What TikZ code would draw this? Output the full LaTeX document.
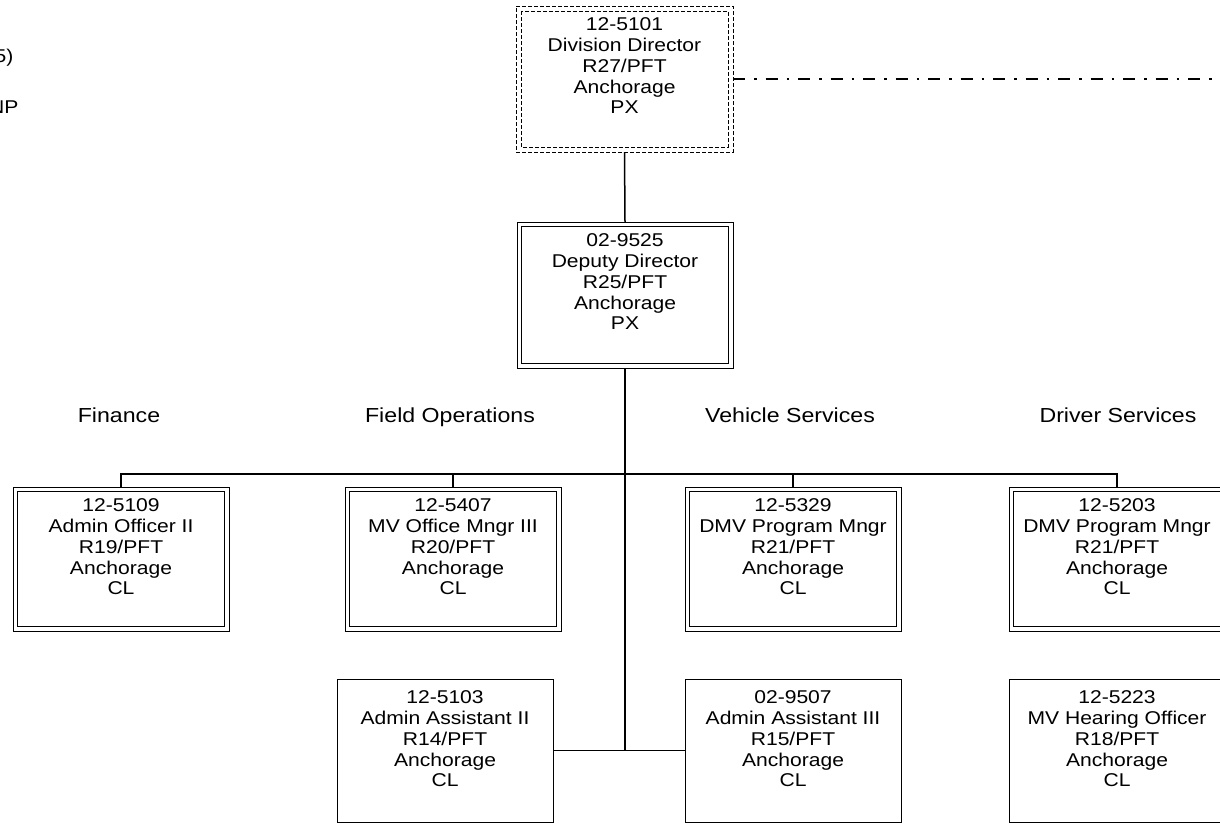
\documentclass[tikz,border=0pt]{standalone}
\usepackage{fontspec}
\setmainfont[FakeStretch=1.14]{Liberation Sans}
\begin{document}
\begin{tikzpicture}[x=1pt,y=-1pt,
  txt/.style={font=\fontsize{18.5}{20.7}\selectfont, align=center, inner sep=0pt, outer sep=0pt},
  head/.style={font=\fontsize{20.3}{22}\selectfont, inner sep=0pt, outer sep=0pt, anchor=base},
  box/.style={draw, line width=1pt, inner sep=0pt, outer sep=0pt, minimum width=216pt, minimum height=144pt},
  dblbox/.style={box, path picture={\draw[line width=1pt] ([shift={(4.5pt,-4.5pt)}]path picture bounding box.north west) rectangle ([shift={(-4.5pt,4.5pt)}]path picture bounding box.south east);}},
  dashbox/.style={box, dash pattern=on 4pt off 2pt, path picture={\draw[line width=1pt, dash pattern=on 4pt off 2pt] ([shift={(5pt,-5pt)}]path picture bounding box.north west) rectangle ([shift={(-5pt,5pt)}]path picture bounding box.south east);}},
  conn/.style={line width=1.5pt},
  dashdotline/.style={line width=1.4pt, dash pattern=on 12pt off 9pt on 2.5pt off 9pt}
]
\useasboundingbox (0,0) rectangle (1220,823);
\clip (0,0) rectangle (1220,823);

% legend remnants (cut off at the left edge, as in the reference)
\node[txt, anchor=east] (l1) at (13.5,58) {5)};
\node[txt, anchor=east] (l2) at (18.5,107) {NP};

% top boxes
\node[dashbox, minimum width=217pt, minimum height=146pt] (div) at (624.5,79) {};
\node[txt, anchor=north] (tdiv) at ([yshift=-12pt]div.north) {12-5101\\Division Director\\R27/PFT\\Anchorage\\PX};
\node[dblbox, minimum height=146pt] (dep) at (625,295) {};
\node[txt, anchor=north] (tdep) at ([yshift=-12pt]dep.north) {02-9525\\Deputy Director\\R25/PFT\\Anchorage\\PX};

% headings
\node[head] (h1) at (119,422) {Finance};
\node[head] (h2) at (450,422) {Field Operations};
\node[head] (h3) at (790,422) {Vehicle Services};
\node[head] (h4) at (1118,422) {Driver Services};

% level 2
\node[dblbox] (b1) at (121,559) {};
\node[dblbox] (b2) at (453,559) {};
\node[dblbox] (b3) at (793,559) {};
\node[dblbox] (b4) at (1117,559) {};
\node[txt, anchor=north] (t1) at ([yshift=-12pt]b1.north) {12-5109\\Admin Officer II\\R19/PFT\\Anchorage\\CL};
\node[txt, anchor=north] (t2) at ([yshift=-12pt]b2.north) {12-5407\\MV Office Mngr III\\R20/PFT\\Anchorage\\CL};
\node[txt, anchor=north] (t3) at ([yshift=-12pt]b3.north) {12-5329\\DMV Program Mngr\\R21/PFT\\Anchorage\\CL};
\node[txt, anchor=north] (t4) at ([yshift=-12pt]b4.north) {12-5203\\DMV Program Mngr\\R21/PFT\\Anchorage\\CL};

% bottom row
\node[box, minimum height=143pt] (c1) at (445,750.5) {};
\node[box, minimum height=143pt] (c2) at (793,750.5) {};
\node[box, minimum height=143pt] (c3) at (1117,750.5) {};
\node[txt, anchor=north] (s1) at ([yshift=-12pt]c1.north) {12-5103\\Admin Assistant II\\R14/PFT\\Anchorage\\CL};
\node[txt, anchor=north] (s2) at ([yshift=-12pt]c2.north) {02-9507\\Admin Assistant III\\R15/PFT\\Anchorage\\CL};
\node[txt, anchor=north] (s3) at ([yshift=-12pt]c3.north) {12-5223\\MV Hearing Officer\\R18/PFT\\Anchorage\\CL};

% connectors
\coordinate (bus) at (625,474);
\coordinate (jn) at (625,750);
\coordinate (ext) at (1225,79);
\draw[conn] (div.south) -- (dep.north);
\draw[conn] (dep.south) -- (jn);
\draw[conn] (b1.north) |- (bus) -| (b4.north);
\draw[conn] (b2.north) -- (b2.north |- bus);
\draw[conn] (b3.north) -- (b3.north |- bus);
\draw[conn] (c1.east) -- (c2.west);
\draw[dashdotline] (div.east) -- (ext);
\end{tikzpicture}
\end{document}
